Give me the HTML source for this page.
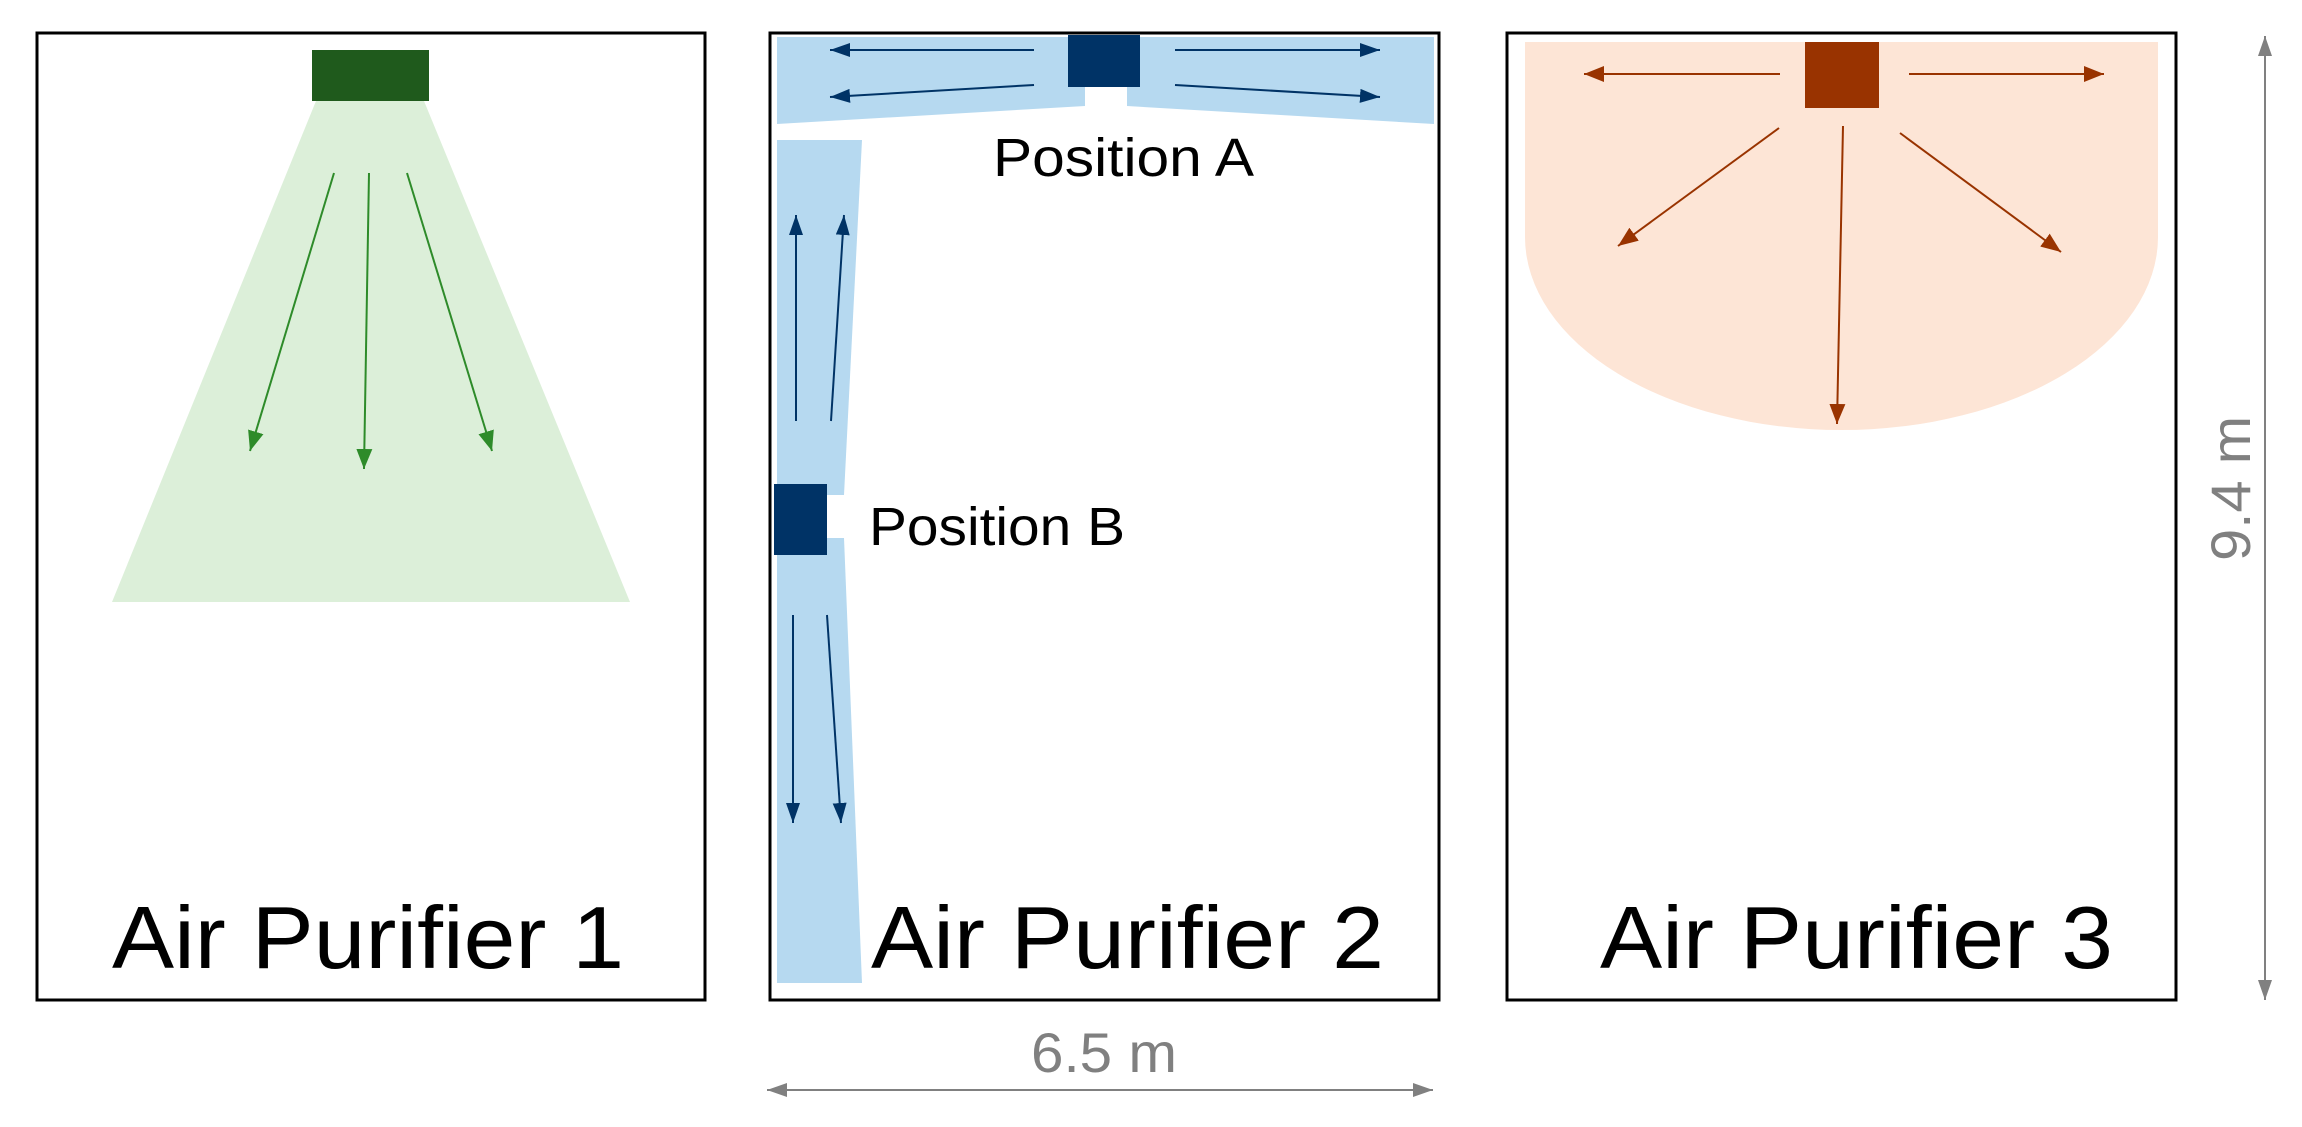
<!DOCTYPE html>
<html><head><meta charset="utf-8"><style>html,body{margin:0;padding:0;background:#fff}svg{display:block}text{font-family:"Liberation Sans",sans-serif}</style></head>
<body>
<svg width="2302" height="1127" viewBox="0 0 2302 1127" xmlns="http://www.w3.org/2000/svg">
<defs>
<marker id="gg" markerWidth="20" markerHeight="16" refX="20" refY="8" orient="auto" markerUnits="userSpaceOnUse"><path d="M0,0 L20,8 L0,16 z" fill="#2e8b2a"/></marker>
<marker id="b" markerWidth="20" markerHeight="14" refX="20" refY="7" orient="auto" markerUnits="userSpaceOnUse"><path d="M0,0 L20,7 L0,14 z" fill="#003366"/></marker>
<marker id="o" markerWidth="20" markerHeight="16" refX="20" refY="8" orient="auto" markerUnits="userSpaceOnUse"><path d="M0,0 L20,8 L0,16 z" fill="#993300"/></marker>
<marker id="k" markerWidth="20" markerHeight="14" refX="20" refY="7" orient="auto" markerUnits="userSpaceOnUse"><path d="M0,0 L20,7 L0,14 z" fill="#808080"/></marker>
</defs>
<!-- Panel 1 -->
<rect x="37" y="33" width="668" height="967" fill="#fff" stroke="#000" stroke-width="3"/>
<polygon points="316,101 424,101 630,602 112,602" fill="#dcefd9"/>
<rect x="312" y="50" width="117" height="51" fill="#1f5a1c"/>
<g stroke="#2e8b2a" stroke-width="2" fill="none">
<line x1="334" y1="173" x2="250" y2="451" marker-end="url(#gg)"/>
<line x1="369" y1="173" x2="364" y2="469" marker-end="url(#gg)"/>
<line x1="407" y1="173" x2="492" y2="451" marker-end="url(#gg)"/>
</g>
<text x="112" y="968" font-size="88" textLength="512" lengthAdjust="spacingAndGlyphs">Air Purifier 1</text>
<!-- Panel 2 -->
<rect x="770" y="33" width="669" height="967" fill="#fff" stroke="#000" stroke-width="3"/>
<polygon points="777,37 1085,37 1085,106 777,124" fill="#b6d9f0"/>
<polygon points="1127,37 1434,37 1434,124 1127,106" fill="#b6d9f0"/>
<polygon points="777,140 862,140 844,495 777,495" fill="#b6d9f0"/>
<polygon points="777,538 844,538 862,983 777,983" fill="#b6d9f0"/>
<rect x="1068" y="35" width="72" height="52" fill="#003366"/>
<rect x="774" y="484" width="53" height="71" fill="#003366"/>
<g stroke="#003366" stroke-width="2" fill="none">
<line x1="1034" y1="50" x2="830" y2="50" marker-end="url(#b)"/>
<line x1="1034" y1="85" x2="830" y2="97" marker-end="url(#b)"/>
<line x1="1175" y1="50" x2="1380" y2="50" marker-end="url(#b)"/>
<line x1="1175" y1="85" x2="1380" y2="97" marker-end="url(#b)"/>
<line x1="796" y1="421" x2="796" y2="215" marker-end="url(#b)"/>
<line x1="831" y1="421" x2="844" y2="215" marker-end="url(#b)"/>
<line x1="793" y1="615" x2="793" y2="823" marker-end="url(#b)"/>
<line x1="827" y1="615" x2="841" y2="823" marker-end="url(#b)"/>
</g>
<text x="993" y="176" font-size="54" textLength="261" lengthAdjust="spacingAndGlyphs">Position A</text>
<text x="869" y="545" font-size="54" textLength="256" lengthAdjust="spacingAndGlyphs">Position B</text>
<text x="871" y="968" font-size="88" textLength="513" lengthAdjust="spacingAndGlyphs">Air Purifier 2</text>
<!-- Panel 3 -->
<rect x="1507" y="33" width="669" height="967" fill="#fff" stroke="#000" stroke-width="3"/>
<path d="M1525,42 L2158,42 L2158,237 A316.5,193 0 0 1 1525,237 Z" fill="#fde5d6"/>
<rect x="1805" y="42" width="74" height="66" fill="#993300"/>
<g stroke="#993300" stroke-width="2" fill="none">
<line x1="1780" y1="74" x2="1584" y2="74" marker-end="url(#o)"/>
<line x1="1909" y1="74" x2="2104" y2="74" marker-end="url(#o)"/>
<line x1="1779" y1="128" x2="1618" y2="246" marker-end="url(#o)"/>
<line x1="1843" y1="126" x2="1837" y2="424" marker-end="url(#o)"/>
<line x1="1900" y1="133" x2="2061" y2="252" marker-end="url(#o)"/>
</g>
<text x="1600" y="968" font-size="88" textLength="513" lengthAdjust="spacingAndGlyphs">Air Purifier 3</text>
<!-- dimensions -->
<g stroke="#808080" stroke-width="2" fill="none">
<line x1="2265" y1="518" x2="2265" y2="36" marker-end="url(#k)"/>
<line x1="2265" y1="518" x2="2265" y2="1000" marker-end="url(#k)"/>
<line x1="1100" y1="1090" x2="767" y2="1090" marker-end="url(#k)"/>
<line x1="1100" y1="1090" x2="1433" y2="1090" marker-end="url(#k)"/>
</g>
<text x="1031" y="1072" font-size="56" fill="#808080" textLength="146" lengthAdjust="spacingAndGlyphs">6.5 m</text>
<text transform="translate(2250,561) rotate(-90)" x="0" y="0" font-size="56" fill="#808080" textLength="145" lengthAdjust="spacingAndGlyphs">9.4 m</text>
</svg>
</body></html>
